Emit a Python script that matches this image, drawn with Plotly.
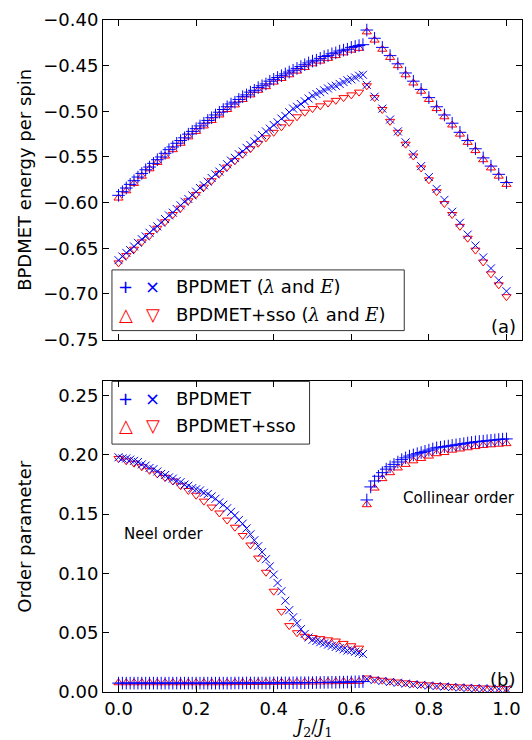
import plotly.graph_objects as go

# ---------------- data ----------------
# grid steps: blue (BPDMET) 0.01 on the left branch, red (BPDMET+sso) 0.02
xticks = [0.0, 0.2, 0.4, 0.6, 0.8, 1.0]
top_yticks = [-0.75, -0.70, -0.65, -0.60, -0.55, -0.50, -0.45, -0.40]
bot_yticks = [0.00, 0.05, 0.10, 0.15, 0.20, 0.25]

# ---- panel (a): energy per spin ----
# series A (lambda): blue "+", red up-triangle
eA_blue_left = [-0.592, -0.588, -0.584, -0.580, -0.576, -0.572, -0.568, -0.564, -0.561, -0.557,
                -0.553, -0.550, -0.546, -0.542, -0.539, -0.535, -0.532, -0.529, -0.525, -0.522,
                -0.519, -0.516, -0.513, -0.510, -0.507, -0.504, -0.501, -0.498, -0.495, -0.492,
                -0.490, -0.487, -0.484, -0.482, -0.479, -0.477, -0.474, -0.472, -0.470, -0.467,
                -0.465, -0.463, -0.461, -0.459, -0.457, -0.455, -0.453, -0.451, -0.449, -0.447,
                -0.445, -0.444, -0.442, -0.440, -0.439, -0.437, -0.436, -0.434, -0.433, -0.432,
                -0.430, -0.429, -0.428, -0.427]
eA_blue_right = [-0.411, -0.420, -0.430, -0.439, -0.448, -0.458, -0.467, -0.476, -0.485, -0.495,
                 -0.504, -0.513, -0.523, -0.532, -0.541, -0.551, -0.560, -0.569, -0.578]
eA_red_left = [-0.595, -0.587, -0.579, -0.571, -0.563, -0.556, -0.549, -0.542, -0.535, -0.528,
               -0.522, -0.516, -0.510, -0.504, -0.498, -0.493, -0.487, -0.482, -0.477, -0.473,
               -0.468, -0.464, -0.460, -0.456, -0.452, -0.448, -0.445, -0.442, -0.439, -0.436,
               -0.433, -0.431]
eA_red_right = [-0.413, -0.422, -0.432, -0.441, -0.450, -0.460, -0.469, -0.478, -0.487, -0.497,
                -0.506, -0.515, -0.525, -0.534, -0.543, -0.553, -0.562, -0.571, -0.580]
# series B (E): blue "x", red down-triangle
eB_blue_left = [-0.663, -0.659, -0.655, -0.652, -0.648, -0.644, -0.640, -0.637, -0.633, -0.629,
                -0.626, -0.622, -0.618, -0.614, -0.611, -0.607, -0.603, -0.599, -0.596, -0.592,
                -0.588, -0.584, -0.581, -0.577, -0.573, -0.569, -0.566, -0.562, -0.558, -0.554,
                -0.551, -0.547, -0.544, -0.540, -0.537, -0.533, -0.530, -0.526, -0.522, -0.519,
                -0.515, -0.512, -0.508, -0.505, -0.501, -0.497, -0.495, -0.492, -0.489, -0.486,
                -0.483, -0.481, -0.479, -0.477, -0.475, -0.473, -0.472, -0.470, -0.468, -0.466,
                -0.465, -0.463, -0.461, -0.460]
eB_blue_right = [-0.471, -0.484, -0.497, -0.509, -0.522, -0.534, -0.547, -0.560, -0.572, -0.585,
                 -0.597, -0.610, -0.622, -0.635, -0.647, -0.660, -0.672, -0.685, -0.697]
eB_red_left = [-0.666, -0.658, -0.651, -0.643, -0.636, -0.628, -0.621, -0.613, -0.606, -0.598,
               -0.591, -0.583, -0.576, -0.568, -0.561, -0.554, -0.547, -0.541, -0.535, -0.529,
               -0.523, -0.517, -0.512, -0.506, -0.501, -0.497, -0.494, -0.491, -0.488, -0.485,
               -0.482, -0.479]
eB_red_right = [-0.472, -0.485, -0.498, -0.511, -0.523, -0.536, -0.549, -0.562, -0.575, -0.588,
                -0.601, -0.613, -0.626, -0.639, -0.652, -0.665, -0.678, -0.690, -0.703]

# ---- panel (b): order parameter ----
mA_blue_left = [0.0075, 0.0075, 0.0075, 0.0075, 0.0075, 0.0075, 0.0075, 0.0075, 0.0075, 0.0075,
                0.0075, 0.0075, 0.0075, 0.0075, 0.0075, 0.0075, 0.0075, 0.0075, 0.0075, 0.0075,
                0.0075, 0.0075, 0.0075, 0.0075, 0.0075, 0.0075, 0.0075, 0.0075, 0.0075, 0.0075,
                0.0076, 0.0076, 0.0076, 0.0076, 0.0076, 0.0076, 0.0076, 0.0076, 0.0076, 0.0076,
                0.0077, 0.0077, 0.0077, 0.0077, 0.0077, 0.0078, 0.0078, 0.0078, 0.0078, 0.0079,
                0.0079, 0.0080, 0.0080, 0.0081, 0.0081, 0.0082, 0.0082, 0.0083, 0.0083, 0.0084,
                0.0085, 0.0086, 0.0087, 0.0088]
mA_blue_right = [0.162, 0.173, 0.178, 0.182, 0.185, 0.188, 0.190, 0.192, 0.194, 0.196,
                 0.1975, 0.199, 0.200, 0.201, 0.202, 0.203, 0.204, 0.205, 0.206, 0.2065,
                 0.207, 0.2075, 0.208, 0.2085, 0.209, 0.2095, 0.210, 0.2105, 0.211, 0.2113,
                 0.2116, 0.212, 0.2123, 0.2126, 0.213, 0.2133, 0.2135]
mA_red_left = [0.0078, 0.0078, 0.0078, 0.0078, 0.0078, 0.0078, 0.0078, 0.0078, 0.0078, 0.0078,
               0.0078, 0.0078, 0.0078, 0.0078, 0.0078, 0.0079, 0.0079, 0.0080, 0.0080, 0.0081,
               0.0081, 0.0082, 0.0082, 0.0083, 0.0083, 0.0084, 0.0085, 0.0086, 0.0087, 0.0088,
               0.0089, 0.0090]
mA_red_right = [0.158, 0.172, 0.180, 0.185, 0.189, 0.192, 0.195, 0.197, 0.199, 0.201,
                0.202, 0.204, 0.205, 0.206, 0.207, 0.208, 0.2085, 0.209, 0.2095]
mB_blue_left = [0.198, 0.197, 0.197, 0.196, 0.195, 0.194, 0.192, 0.191, 0.189, 0.188,
                0.186, 0.184, 0.183, 0.181, 0.180, 0.178, 0.177, 0.175, 0.174, 0.172,
                0.171, 0.170, 0.168, 0.167, 0.165, 0.163, 0.160, 0.158, 0.155, 0.152,
                0.149, 0.145, 0.142, 0.138, 0.133, 0.128, 0.123, 0.118, 0.112, 0.106,
                0.099, 0.092, 0.085, 0.077, 0.069, 0.063, 0.058, 0.053, 0.049, 0.046,
                0.044, 0.043, 0.042, 0.041, 0.040, 0.039, 0.038, 0.037, 0.036, 0.035,
                0.035, 0.034, 0.033, 0.032]
mB_blue_right = [0.0110, 0.0100, 0.0093, 0.0085, 0.0078, 0.0071, 0.0065, 0.0060, 0.0055, 0.0050,
                 0.0046, 0.0042, 0.0038, 0.0035, 0.0032, 0.0030, 0.0028, 0.0026, 0.0025]
mB_red_left = [0.197, 0.195, 0.193, 0.190, 0.187, 0.184, 0.181, 0.178, 0.174, 0.170,
               0.166, 0.161, 0.156, 0.151, 0.145, 0.139, 0.132, 0.124, 0.113, 0.101,
               0.085, 0.068, 0.056, 0.050, 0.047, 0.046, 0.045, 0.044, 0.043, 0.041,
               0.039, 0.037]
mB_red_right = [0.0118, 0.0107, 0.0099, 0.0091, 0.0084, 0.0077, 0.0071, 0.0065, 0.0060, 0.0055,
                0.0051, 0.0047, 0.0043, 0.0040, 0.0037, 0.0034, 0.0032, 0.0030, 0.0029]


def grid(start, step, n):
    return [round(start + step * i, 2) for i in range(n)]


BLUE = "#0000ff"
RED = "#ff0000"
FONT = "DejaVu Sans"

fig = go.Figure()


def add(y, start, step, sym, color, size, xa, ya):
    fig.add_trace(go.Scatter(
        x=grid(start, step, len(y)), y=y, mode="markers", xaxis=xa, yaxis=ya,
        showlegend=False, hoverinfo="x+y",
        marker=dict(symbol=sym, size=size, color=color,
                    line=dict(color=color, width=1))))


for xa, ya, A_bl, A_br, A_rl, A_rr, B_bl, B_br, B_rl, B_rr, A_step_r in [
    ("x", "y", eA_blue_left, eA_blue_right, eA_red_left, eA_red_right,
     eB_blue_left, eB_blue_right, eB_red_left, eB_red_right, 0.02),
    ("x2", "y2", mA_blue_left, mA_blue_right, mA_red_left, mA_red_right,
     mB_blue_left, mB_blue_right, mB_red_left, mB_red_right, 0.01),
]:
    # red first (drawn underneath)
    add(A_rl, 0.0, 0.02, "triangle-up-open", RED, 8, xa, ya)
    add(A_rr, 0.64, 0.02, "triangle-up-open", RED, 8, xa, ya)
    add(B_rl, 0.0, 0.02, "triangle-down-open", RED, 8, xa, ya)
    add(B_rr, 0.64, 0.02, "triangle-down-open", RED, 8, xa, ya)
    add(A_bl, 0.0, 0.01, "cross-thin", BLUE, 9, xa, ya)
    add(A_br, 0.64, A_step_r, "cross-thin", BLUE, 9, xa, ya)
    add(B_bl, 0.0, 0.01, "x-thin", BLUE, 8, xa, ya)
    add(B_br, 0.64, 0.02, "x-thin", BLUE, 8, xa, ya)

common = dict(showline=True, linecolor="black", linewidth=1, mirror="ticks",
              ticks="inside", ticklen=6, tickwidth=1, tickcolor="black",
              showgrid=False, zeroline=False,
              tickfont=dict(size=18, family=FONT, color="black"))

TOP_DOM = [0.5244, 1.0]
BOT_DOM = [0.0, 0.4622]

fig.update_layout(
    width=532, height=740,
    margin=dict(l=103, r=9, t=17, b=48),
    paper_bgcolor="white", plot_bgcolor="white",
    font=dict(family=FONT, color="black", size=18),
    xaxis=dict(range=[-0.04, 1.04], domain=[0, 1], anchor="y", tickvals=xticks,
               showticklabels=False, **common),
    yaxis=dict(range=[-0.75, -0.40], domain=TOP_DOM, anchor="x", tickvals=top_yticks,
               tickformat=".2f", **common),
    xaxis2=dict(range=[-0.04, 1.04], domain=[0, 1], anchor="y2", tickvals=xticks,
                tickformat=".1f", **common),
    yaxis2=dict(range=[0, 0.262], domain=BOT_DOM, anchor="x2", tickvals=bot_yticks,
                tickformat=".2f", **common),
)

ann = []
SERIF = "font-family:'DejaVu Serif'"
YT_X = -0.186
# axis titles
ann.append(dict(text="BPDMET energy per spin", x=YT_X, y=(TOP_DOM[0] + TOP_DOM[1]) / 2,
                xref="paper", yref="paper", textangle=-90, showarrow=False,
                xanchor="center", yanchor="middle",
                font=dict(size=18, family=FONT)))
ann.append(dict(text="Order parameter", x=YT_X, y=(BOT_DOM[0] + BOT_DOM[1]) / 2,
                xref="paper", yref="paper", textangle=-90, showarrow=False,
                xanchor="center", yanchor="middle",
                font=dict(size=18, family=FONT)))
ann.append(dict(text="<i>J</i><sub>2</sub>/<i>J</i><sub>1</sub>", x=0.5, y=-0.053,
                xref="paper", yref="paper", showarrow=False, yanchor="middle",
                font=dict(size=18, family="DejaVu Serif")))
# panel labels and phase labels
ann.append(dict(text="(a)", x=0.990, y=0.5437, xref="paper", yref="paper", xanchor="right",
                yanchor="middle", showarrow=False, font=dict(size=18, family=FONT)))
ann.append(dict(text="(b)", x=0.988, y=0.0193, xref="paper", yref="paper", xanchor="right",
                yanchor="middle", showarrow=False, font=dict(size=18, family=FONT)))
ann.append(dict(text="Neel order", x=0.045, y=0.2356, xref="paper", yref="paper",
                xanchor="left", yanchor="middle", showarrow=False, font=dict(size=15, family=FONT)))
ann.append(dict(text="Collinear order", x=0.712, y=0.2889, xref="paper", yref="paper",
                xanchor="left", yanchor="middle", showarrow=False, font=dict(size=15, family=FONT)))

# legends (two markers per entry, drawn as text glyphs)
lam_E = ("(<span style=\"%s\"><i>λ</i></span> and <span style=\"%s\"><i>E</i></span>)"
         % (SERIF, SERIF))
legend_rows = [
    (0.6030, "BPDMET " + lam_E, BLUE, "+", "×"),
    (0.5615, "BPDMET+sso " + lam_E, RED, "△", "▽"),
    (0.4370, "BPDMET", BLUE, "+", "×"),
    (0.3970, "BPDMET+sso", RED, "△", "▽"),
]
for y, label, col, g1, g2 in legend_rows:
    ann.append(dict(text=g1, x=0.0548, y=y, xref="paper", yref="paper", xanchor="center",
                    yanchor="middle", showarrow=False, font=dict(size=18, family=FONT, color=col)))
    ann.append(dict(text=g2, x=0.119, y=y, xref="paper", yref="paper", xanchor="center",
                    yanchor="middle", showarrow=False, font=dict(size=18, family=FONT, color=col)))
    ann.append(dict(text=label, x=0.169, y=y, xref="paper", yref="paper", xanchor="left",
                    yanchor="middle", showarrow=False, font=dict(size=18, family=FONT)))
fig.update_layout(annotations=ann)

fig.update_layout(shapes=[
    dict(type="rect", xref="paper", yref="paper", x0=0.0214, x1=0.719, y0=0.5378, y1=0.6281,
         line=dict(color="#333333", width=1), fillcolor="white", layer="below"),
    dict(type="rect", xref="paper", yref="paper", x0=0.0214, x1=0.493, y0=0.3689, y1=0.4622,
         line=dict(color="#333333", width=1), fillcolor="white", layer="below"),
])

fig.write_html("out.html")
